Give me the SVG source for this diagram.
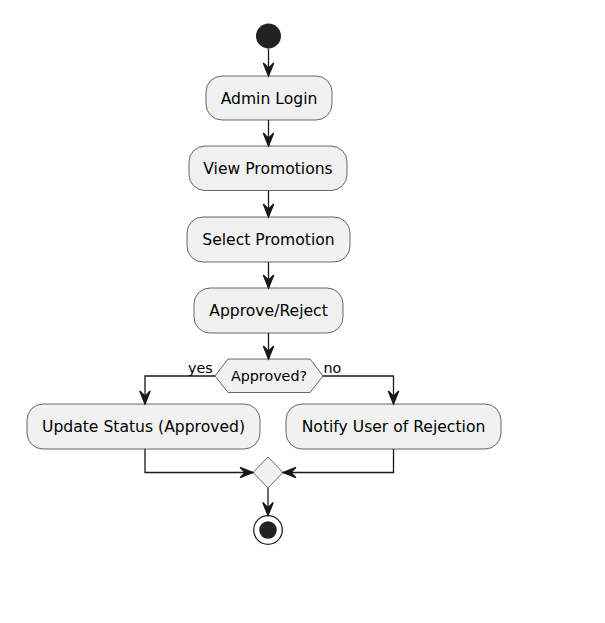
<svg xmlns="http://www.w3.org/2000/svg" width="605" height="623" viewBox="0 0 605 623">
<style>
.box{fill:#F1F1F1;stroke:#181818;stroke-width:0.65}
.t{font-family:"DejaVu Sans",sans-serif;font-size:15.6px;fill:#000;text-anchor:middle}
.s{font-family:"DejaVu Sans",sans-serif;font-size:14.3px;fill:#000}
.ln{fill:none;stroke:#181818;stroke-width:1.3}
.ah{fill:#181818;stroke:#181818;stroke-width:1.3}
</style>
<rect width="605" height="623" fill="#FFFFFF"/>
<g id="start"><circle cx="268.5" cy="36" r="12.5" fill="#222222"/></g>
<g id="n1"><rect class="box" x="206" y="76" width="126" height="44" rx="16"/><text class="t" x="269" y="103.5">Admin Login</text></g>
<g id="n2"><rect class="box" x="189" y="146" width="158" height="44.5" rx="16"/><text class="t" x="268" y="173.5">View Promotions</text></g>
<g id="n3"><rect class="box" x="187" y="217" width="163" height="45" rx="16"/><text class="t" x="268.5" y="245">Select Promotion</text></g>
<g id="n4"><rect class="box" x="194" y="288" width="149" height="45" rx="16"/><text class="t" x="268.5" y="316">Approve/Reject</text></g>
<g id="d1"><polygon class="box" points="215,376 228,359 310,359 323,376 310,392.5 228,392.5"/><text class="s" x="269" y="381" text-anchor="middle">Approved?</text></g>
<g id="n5"><rect class="box" x="27" y="404" width="233" height="45" rx="16"/><text class="t" x="143.5" y="432">Update Status (Approved)</text></g>
<g id="n6"><rect class="box" x="286" y="404" width="215" height="45" rx="16"/><text class="t" x="393.5" y="432">Notify User of Rejection</text></g>
<g id="m1"><polygon class="box" points="268,457 283,472.5 268,488 253,472.5"/></g>
<g id="end"><circle cx="268" cy="530" r="14.3" fill="none" stroke="#222222" stroke-width="1.3"/><circle cx="268" cy="530" r="8.8" fill="#222222"/></g>
<g id="connectors">
<path class="ln" d="M268.5,48.5 V76"/>
<polygon class="ah" points="263.3,63 268.5,76 273.7,63 268.5,68.2"/>
<path class="ln" d="M268.5,120 V146"/>
<polygon class="ah" points="263.3,133 268.5,146 273.7,133 268.5,138.2"/>
<path class="ln" d="M268.5,190.5 V217"/>
<polygon class="ah" points="263.3,204 268.5,217 273.7,204 268.5,209.2"/>
<path class="ln" d="M268.5,262 V288"/>
<polygon class="ah" points="263.3,275 268.5,288 273.7,275 268.5,280.2"/>
<path class="ln" d="M268.5,333 V359"/>
<polygon class="ah" points="263.3,346 268.5,359 273.7,346 268.5,351.2"/>
<path class="ln" d="M215,376 H145 V404"/>
<polygon class="ah" points="139.8,391 145,404 150.2,391 145,396.2"/>
<text class="s" x="188" y="373">yes</text>
<path class="ln" d="M323,376 H393.5 V404"/>
<polygon class="ah" points="388.3,391 393.5,404 398.7,391 393.5,396.2"/>
<text class="s" x="323.5" y="373">no</text>
<path class="ln" d="M145,449 V472.5 H253"/>
<polygon class="ah" points="240,467.3 253,472.5 240,477.7 245.2,472.5"/>
<path class="ln" d="M393.5,449 V472.5 H283"/>
<polygon class="ah" points="296,467.3 283,472.5 296,477.7 290.8,472.5"/>
<path class="ln" d="M268,488 V515.5"/>
<polygon class="ah" points="262.8,502.5 268,515.5 273.2,502.5 268,507.7"/>
</g>
</svg>
